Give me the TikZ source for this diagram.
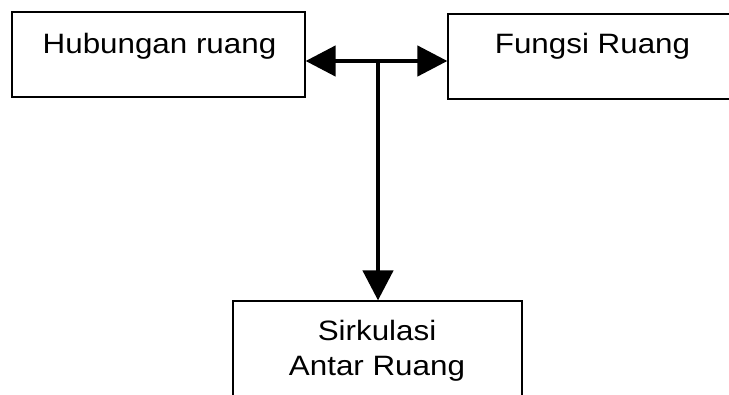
\documentclass[tikz,border=0pt]{standalone}
\usepackage{fontspec}
\setmainfont[FakeStretch=1.12]{Liberation Sans}
\usetikzlibrary{arrows.meta}
\begin{document}
\begin{tikzpicture}[x=1pt,y=-1pt,
  box/.style={draw=black,line width=1.2pt,inner sep=0pt,rectangle},
  lbl/.style={inner sep=0pt,anchor=base,font=\fontsize{28}{35}\selectfont},
  conn/.style={line width=4.5pt,-{Triangle[length=30pt,width=30pt]}},
  conn2/.style={line width=4.5pt,{Triangle[length=30pt,width=30pt]}-{Triangle[length=30pt,width=30pt]}}]
\clip (0,0) rectangle (729,394);
\fill[white] (0,0) rectangle (729,394);
\node[box,minimum width=293pt,minimum height=85pt] (b1) at (158.5,54.5) {};
\node[box,minimum width=312pt,minimum height=85pt] (b2) at (604,56.5) {};
\node[box,minimum width=289pt,minimum height=129pt] (b3) at (377.5,365.5) {};
\node[lbl] (t1) at (159.5,53) {Hubungan ruang};
\node[lbl] (t2) at (592.5,53) {Fungsi Ruang};
\node[lbl] (t3) at (377,340) {Sirkulasi};
\node[lbl] (t4) at (377,375) {Antar Ruang};
\coordinate (j) at (378,61);
\draw[conn2] (j -| b1.east) -- (j -| b2.west);
\draw[conn] ([yshift=-2pt]j) -- (j |- b3.north);
\end{tikzpicture}
\end{document}
